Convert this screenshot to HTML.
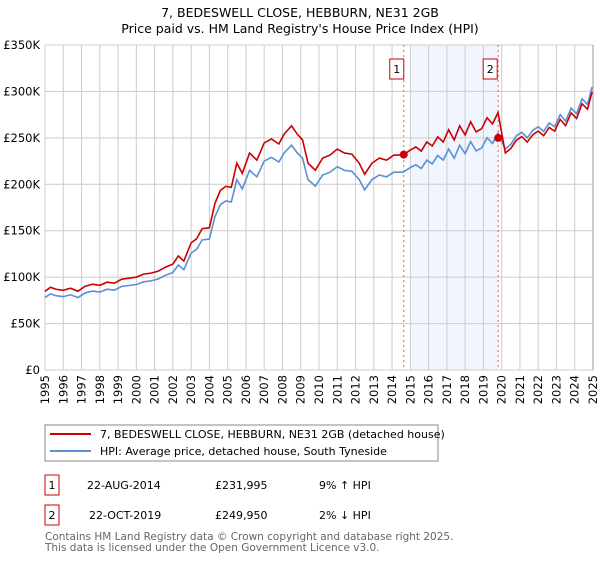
<!DOCTYPE html>
<html><head><meta charset="utf-8"><style>
body{margin:0;background:#fff;font-family:"DejaVu Sans","Liberation Sans",sans-serif}
svg text{font-family:"DejaVu Sans","Liberation Sans",sans-serif}
</style></head><body>
<svg id="c" width="600" height="560" xmlns="http://www.w3.org/2000/svg">
<text x="300" y="17" text-anchor="middle" font-size="12.5">7, BEDESWELL CLOSE, HEBBURN, NE31 2GB</text>
<text x="300" y="33" text-anchor="middle" font-size="12.5">Price paid vs. HM Land Registry's House Price Index (HPI)</text>
<g id="plot"></g>
<rect x="45" y="425" width="393" height="36" fill="#fff" stroke="#888"/>
<line x1="50" y1="434" x2="91" y2="434" stroke="#cc0000" stroke-width="2"/>
<text x="100" y="438" font-size="11">7, BEDESWELL CLOSE, HEBBURN, NE31 2GB (detached house)</text>
<line x1="50" y1="451" x2="91" y2="451" stroke="#5b8fd4" stroke-width="2"/>
<text x="100" y="455" font-size="11">HPI: Average price, detached house, South Tyneside</text>
<rect x="45" y="475" width="14" height="20" fill="none" stroke="#cc0000"/>
<text x="52" y="489" text-anchor="middle" font-size="11">1</text>
<text x="87" y="489" font-size="11">22-AUG-2014</text>
<text x="215" y="489" font-size="11">£231,995</text>
<text x="319" y="489" font-size="11">9% ↑ HPI</text>
<rect x="45" y="505" width="14" height="20" fill="none" stroke="#cc0000"/>
<text x="52" y="519" text-anchor="middle" font-size="11">2</text>
<text x="89" y="519" font-size="11">22-OCT-2019</text>
<text x="215" y="519" font-size="11">£249,950</text>
<text x="319" y="519" font-size="11">2% ↓ HPI</text>
<text x="45" y="540" font-size="10.5" fill="#666">Contains HM Land Registry data © Crown copyright and database right 2025.</text>
<text x="45" y="551" font-size="10.5" fill="#666">This data is licensed under the Open Government Licence v3.0.</text>
</svg>
<script>
const yTicks=[0,50,100,150,200,250,300,350];
const yTickLabels=["£0","£50K","£100K","£150K","£200K","£250K","£300K","£350K"];
const years=[1995,1996,1997,1998,1999,2000,2001,2002,2003,2004,2005,2006,2007,2008,2009,2010,2011,2012,2013,2014,2015,2016,2017,2018,2019,2020,2021,2022,2023,2024,2025];
const hpiT=[1995,1995.3,1995.6,1996,1996.4,1996.8,1997.2,1997.6,1998,1998.4,1998.8,1999.2,1999.6,2000,2000.4,2000.8,2001.2,2001.6,2002,2002.3,2002.6,2003,2003.3,2003.6,2004,2004.3,2004.6,2004.9,2005.2,2005.5,2005.8,2006.2,2006.6,2007,2007.4,2007.8,2008.1,2008.5,2008.8,2009.1,2009.4,2009.8,2010.2,2010.6,2011,2011.4,2011.8,2012.2,2012.5,2012.9,2013.3,2013.7,2014.1,2014.6,2015,2015.3,2015.6,2015.9,2016.2,2016.5,2016.8,2017.1,2017.4,2017.7,2018,2018.3,2018.6,2018.9,2019.2,2019.5,2019.8,2020.2,2020.5,2020.8,2021.1,2021.4,2021.7,2022,2022.3,2022.6,2022.9,2023.2,2023.5,2023.8,2024.1,2024.4,2024.7,2024.95];
const hpiV=[78,82,80,79,81,78,83,85,84,87,86,90,91,92,95,96,98,102,105,113,108,126,130,140,141,165,178,182,181,205,195,215,208,225,229,224,234,242,234,228,205,198,210,213,219,215,214,205,194,205,210,208,213,213,218,221,217,226,222,231,226,238,228,242,233,246,236,239,250,244,255,238,243,252,256,250,258,262,257,266,262,275,268,282,276,292,286,305];
const sales=[{t:2014.64,v:231.995},{t:2019.81,v:249.95}];
const X=t=>45+(t-1995)*(548/30), Y=v=>370-v*(325/350);
const g=document.getElementById('plot');const NS='http://www.w3.org/2000/svg';
function mk(tag,a,name){const e=document.createElementNS(NS,tag);for(const k in a)e.setAttribute(k,a[k]);


g.appendChild(e);return e;}
mk('rect',{x:X(2015),y:45,width:X(sales[1].t)-X(2015),height:325,fill:'#eef3fc',opacity:0.8},'highlight-band');
yTicks.forEach((v,i)=>{mk('line',{x1:45,x2:593,y1:Y(v),y2:Y(v),stroke:'#ccc'},'y-gridline');
const t=mk('text',{x:40,y:Y(v)+4,'text-anchor':'end','font-size':11.5},'y-tick-label');t.textContent=yTickLabels[i];});
years.forEach(y=>{mk('line',{x1:X(y),x2:X(y),y1:45,y2:370,stroke:'#ccc'},'x-gridline');
const t=mk('text',{x:0,y:0,'text-anchor':'end','font-size':11.5,transform:`translate(${X(y)+4},375) rotate(-90)`},'x-tick-label');t.textContent=y;});
mk('line',{x1:593,x2:593,y1:45,y2:370,stroke:'#999'},'right-border');
sales.forEach((s,i)=>{mk('line',{x1:X(s.t),x2:X(s.t),y1:45,y2:370,stroke:'#e06060','stroke-dasharray':'2,3'},'sale-'+(i+1)+'-line');
mk('rect',{x:X(s.t)-14+(i?-1:0),y:59,width:14,height:20,fill:'#fff',stroke:'#cc0000'},'sale-'+(i+1)+'-marker-label');
const t=mk('text',{x:X(s.t)-7+(i?-1:0),y:73,'text-anchor':'middle','font-size':11},'sale-'+(i+1)+'-number');t.textContent=i+1;});
function interp(t){for(let i=1;i<hpiT.length;i++)if(t<=hpiT[i]){const f=(t-hpiT[i-1])/(hpiT[i]-hpiT[i-1]);return hpiV[i-1]+f*(hpiV[i]-hpiV[i-1]);}return hpiV[hpiV.length-1];}
const r1=sales[0].v/interp(sales[0].t), r2=sales[1].v/interp(sales[1].t);
const blue=hpiT.map((t,i)=>X(t)+','+Y(hpiV[i])).join(' ');
const red=hpiT.map((t,i)=>X(t)+','+Y(hpiV[i]*(t<sales[1].t?r1:r2))).join(' ');
mk('polyline',{points:blue,fill:'none',stroke:'#5b8fd4','stroke-width':1.6},'hpi-line');
mk('polyline',{points:red,fill:'none',stroke:'#cc0000','stroke-width':1.6},'property-line');
sales.forEach((s,i)=>mk('circle',{cx:X(s.t),cy:Y(s.v),r:4,fill:'#cc0000'},'sale-'+(i+1)+'-point'));
</script>
</body></html>
